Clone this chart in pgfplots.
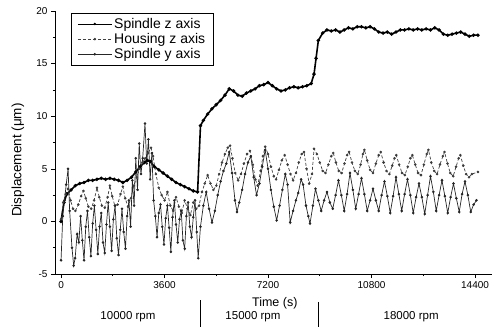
\documentclass[border=0pt]{standalone}
\usepackage{fontspec}
\setmainfont{Liberation Sans}
\usepackage{pgfplots}
\pgfplotsset{compat=1.18}

% Spindle z axis: thermal drift, grows with each speed step
\pgfplotstableread{
t v
0 0.0
100 1.8
200 2.6
350 3.0
500 3.4
650 3.6
800 3.7
950 3.9
1100 3.9
1250 4.0
1400 4.1
1550 4.0
1700 4.1
1850 4.0
2000 3.9
2150 3.7
2300 3.9
2450 4.2
2600 4.7
2750 5.2
2900 5.6
3000 5.8
3100 5.7
3250 5.2
3400 4.9
3550 4.6
3700 4.3
3850 4.0
4000 3.7
4150 3.5
4300 3.3
4450 3.1
4600 2.9
4750 2.8
4850 9.1
4950 9.6
5100 10.2
5250 10.7
5400 11.1
5550 11.5
5700 12.0
5850 12.6
6000 12.4
6150 12.0
6300 11.9
6450 12.2
6600 12.4
6750 12.6
6900 12.9
7050 13.0
7200 13.2
7350 12.9
7500 12.6
7650 12.4
7800 12.5
7950 12.7
8100 12.8
8250 12.7
8400 12.8
8550 12.9
8700 13.1
8800 14.0
8870 15.5
8950 17.2
9100 17.9
9250 18.2
9400 18.1
9550 18.2
9700 18.0
9850 18.2
10000 18.4
10150 18.3
10300 18.5
10450 18.5
10600 18.4
10750 18.5
10900 18.3
11050 18.0
11200 17.9
11350 18.0
11500 17.8
11650 18.0
11800 18.2
11950 18.2
12100 18.3
12250 18.2
12400 18.3
12550 18.2
12700 18.3
12850 18.2
13000 18.4
13150 18.2
13300 17.8
13450 17.7
13600 17.8
13750 17.9
13900 18.0
14050 17.8
14200 17.6
14350 17.7
14500 17.7
}\spindlez

% Housing z axis
\pgfplotstableread{
t v
0 0.2
80 1.8
160 2.6
240 3.1
330 2.0
420 1.2
500 1.0
600 1.6
700 2.4
780 2.9
860 2.2
950 1.4
1050 1.2
1150 2.0
1250 3.2
1330 2.3
1420 1.5
1520 1.3
1620 2.3
1700 3.4
1780 2.4
1870 1.5
1970 1.6
2070 2.6
2150 3.3
2230 2.2
2330 1.4
2430 2.2
2530 3.4
2630 4.2
2730 5.0
2830 5.6
2930 6.0
3030 6.5
3130 7.0
3200 6.2
3300 4.5
3400 3.2
3500 2.5
3600 2.0
3700 2.8
3800 1.5
3900 1.0
4000 2.3
4100 1.4
4200 0.8
4300 2.0
4400 1.2
4500 0.6
4600 1.8
4700 1.2
4800 1.5
4900 2.8
5000 3.6
5100 4.4
5200 3.6
5300 3.0
5400 3.4
5500 4.5
5600 5.6
5700 6.4
5800 7.0
5880 7.2
5960 6.0
6060 4.6
6160 3.9
6260 4.5
6360 5.5
6470 6.4
6570 6.7
6670 5.4
6760 4.0
6840 3.4
6940 4.8
7020 6.2
7100 7.1
7200 6.4
7300 5.2
7400 4.3
7480 4.0
7580 4.9
7680 5.8
7780 6.3
7880 5.4
7980 4.5
8070 3.9
8170 4.6
8270 5.6
8370 6.4
8450 6.6
8540 5.0
8630 3.6
8730 4.5
8800 6.9
8900 6.4
9000 5.6
9100 4.8
9200 4.6
9300 5.4
9400 6.2
9470 6.5
9560 5.6
9660 4.8
9760 4.6
9860 5.5
9950 6.3
10020 6.6
10120 5.6
10220 4.8
10320 4.5
10420 5.4
10500 6.4
10550 6.8
10650 5.8
10750 4.9
10850 4.6
10950 5.5
11050 6.3
11120 6.6
11220 5.6
11320 4.8
11420 4.5
11520 5.3
11600 6.0
11660 6.3
11760 5.4
11860 4.6
11960 4.4
12060 5.2
12150 6.0
12220 6.3
12320 5.4
12420 4.6
12520 4.4
12620 5.4
12720 6.4
12780 6.8
12880 5.6
12980 4.8
13080 4.5
13180 5.4
13280 6.2
13340 6.6
13440 5.5
13540 4.6
13640 4.3
13740 5.2
13830 6.0
13890 6.3
13990 5.3
14090 4.5
14190 4.2
14290 4.5
14500 4.7
}\housingz

% Spindle y axis
\pgfplotstableread{
t v
0 -3.7
60 0.5
120 2.0
180 3.5
245 5.0
300 1.0
380 -2.5
440 -4.2
490 -3.5
560 -1.2
620 -2.0
680 0.5
740 -1.8
800 -3.7
860 -0.5
920 1.0
980 -1.5
1040 -3.3
1100 -0.2
1160 1.5
1220 -0.8
1280 -3.1
1340 -0.5
1400 0.8
1460 -2.0
1520 -3.0
1580 -0.3
1640 1.8
1700 -0.5
1760 -2.8
1820 0.2
1880 1.5
1940 -1.6
2000 -3.2
2060 -0.8
2120 1.2
2180 -1.0
2240 -2.6
2300 0.5
2360 2.0
2420 -0.5
2480 3.9
2540 1.5
2600 6.0
2660 3.0
2720 7.4
2780 4.5
2840 6.0
2920 9.3
2980 5.5
3040 7.8
3100 4.0
3160 6.5
3220 2.0
3280 0.5
3340 -1.5
3400 0.8
3460 1.6
3520 -0.5
3580 -2.2
3640 0.3
3700 1.5
3760 -0.6
3820 -2.9
3880 0.4
3940 2.0
4000 -0.3
4060 -2.0
4120 0.2
4180 1.0
4240 -1.8
4300 -2.6
4360 0.5
4420 1.8
4480 -0.5
4540 -1.5
4600 0.4
4660 2.0
4720 -1.0
4770 -3.5
4850 -0.5
4950 1.5
5050 2.8
5150 1.2
5250 -0.1
5350 1.0
5450 2.5
5550 3.8
5650 4.8
5750 5.5
5850 6.6
5950 4.6
6050 2.0
6120 0.9
6200 1.8
6300 3.0
6400 4.5
6500 5.6
6600 6.2
6700 4.2
6800 2.5
6900 3.6
7000 5.2
7100 6.8
7200 5.0
7300 3.0
7400 1.4
7500 0.1
7600 1.5
7700 3.0
7800 4.5
7880 3.5
7970 -0.1
8070 1.0
8170 2.0
8250 2.7
8350 4.0
8420 3.5
8520 1.5
8600 0.5
8660 -0.2
8760 1.5
8850 3.1
8950 2.0
9050 1.0
9150 2.0
9250 2.8
9350 1.8
9450 1.2
9550 2.5
9650 3.9
9750 2.5
9850 1.0
9950 2.6
10050 4.6
10150 3.0
10250 1.2
10350 2.6
10450 4.1
10550 2.6
10650 1.0
10750 2.0
10850 3.1
10950 2.0
11050 1.0
11150 2.5
11250 3.8
11350 2.4
11450 0.8
11550 2.4
11650 4.2
11750 2.6
11850 1.0
11950 2.6
12050 4.0
12150 2.5
12250 0.8
12350 2.3
12450 3.6
12550 2.3
12650 0.7
12750 2.5
12850 4.3
12950 2.8
13050 1.0
13150 2.5
13250 3.9
13350 2.4
13450 0.8
13550 2.3
13650 3.6
13750 2.2
13850 0.9
13950 2.6
14050 3.8
14150 2.5
14250 0.9
14350 1.6
14450 2.0
}\spindley

\begin{document}
\begin{tikzpicture}
\begin{axis}[
  name=ax,
  scale only axis, width=437pt, height=263pt,
  xmin=-210, xmax=14990, ymin=-5, ymax=20,
  axis x line*=bottom, axis y line*=left,
  axis line style={line width=0.8pt},
  xtick={0,3600,7200,10800,14400}, ytick={-5,0,5,10,15,20},
  scaled x ticks=false,
  minor x tick num=1, minor y tick num=1,
  tick align=outside, major tick length=4pt, minor tick length=2pt,
  tick style={black, line width=0.6pt},
  /pgf/number format/assume math mode=true,
  /pgf/number format/1000 sep={},
  ticklabel style={font=\fontsize{10}{12}\selectfont},
  xlabel={Time (s)},
  xlabel style={at={(axis description cs:0.503,-0.110)}, anchor=center, font=\fontsize{12.5}{14}\selectfont},
  ylabel={Displacement (μm)},
  ylabel style={at={(axis description cs:-0.085,0.433)}, anchor=center, font=\fontsize{13.5}{15}\selectfont},
  clip=false,
  legend cell align=left,
  legend style={at={(axis description cs:0.037,0.993)}, anchor=north west,
    draw=black, line width=0.6pt, font=\fontsize{14}{16}\selectfont,
    row sep=-0.5pt, inner xsep=6pt, inner ysep=3pt},
  legend image code/.code={%
    \draw[mark repeat=2,mark phase=2,#1] plot coordinates {(0pt,0pt) (17pt,0pt) (34pt,0pt)};},
  legend image post style={line width=0.7pt},
]
\addplot[black, line width=1.6pt, mark=*, mark size=0.8pt] table[x=t,y=v] {\spindlez};
\addlegendentry{Spindle z axis}
\addplot[black!75, densely dashed, line width=0.7pt, mark=*, mark size=0.9pt, mark options={solid, fill=black}] table[x=t,y=v] {\housingz};
\addlegendentry{Housing z axis}
\addplot[black!85, line width=0.7pt, mark=*, mark size=0.9pt, mark options={fill=black}] table[x=t,y=v] {\spindley};
\addlegendentry{Spindle y axis}

% spindle speed bands below the time axis
\node[font=\fontsize{11.5}{13}\selectfont] at (axis description cs:0.167,-0.163) {10000 rpm};
\node[font=\fontsize{11.5}{13}\selectfont] at (axis description cs:0.453,-0.163) {15000 rpm};
\node[font=\fontsize{11.5}{13}\selectfont] at (axis description cs:0.815,-0.163) {18000 rpm};
\draw[black, line width=0.7pt] (axis description cs:0.332,-0.099) -- (axis description cs:0.332,-0.2015);
\draw[black, line width=0.7pt] (axis description cs:0.602,-0.106) -- (axis description cs:0.602,-0.2015);
\end{axis}
\pgfresetboundingbox
\path ([shift={(-55pt,-53pt)}]ax.south west) rectangle ([shift={(2pt,11pt)}]ax.north east);
\end{tikzpicture}
\end{document}
